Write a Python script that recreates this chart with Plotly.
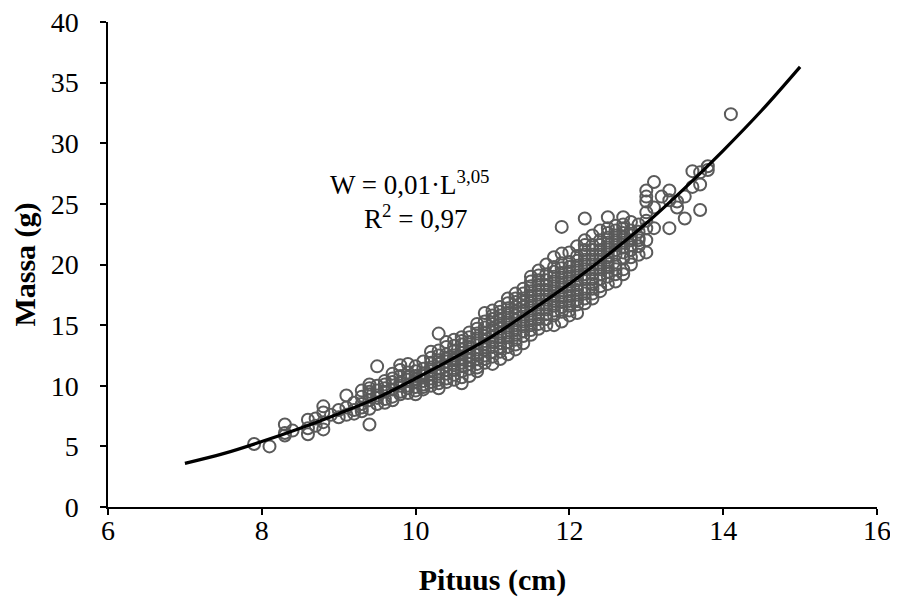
import plotly.graph_objects as go

# measured lengths (cm) and the masses (g) found at each length
lengths = [7.9, 8.1, 8.3, 8.4, 8.6, 8.7, 8.8, 8.9, 9.0, 9.1, 9.2, 9.3, 9.4, 9.5, 9.6,
           9.7, 9.8, 9.9, 10.0, 10.1, 10.2, 10.3, 10.4, 10.5, 10.6, 10.7, 10.8, 10.9,
           11.0, 11.1, 11.2, 11.3, 11.4, 11.5, 11.6, 11.7, 11.8, 11.9, 12.0, 12.1,
           12.2, 12.3, 12.4, 12.5, 12.6, 12.7, 12.8, 12.9, 13.0, 13.1, 13.2, 13.3,
           13.4, 13.5, 13.6, 13.7, 13.8, 14.1]

masses = [
    [5.2],
    [5.0],
    [6.8, 5.9, 6.1],
    [6.3],
    [6.0, 6.5, 7.2],
    [7.3, 6.7],
    [8.3, 7.8, 6.4, 7.0],
    [7.6],
    [7.4, 8.0],
    [7.6, 8.2, 9.2],
    [8.0, 8.6, 7.7],
    [8.5, 9.1, 7.9, 9.6, 8.2],
    [9.8, 8.8, 9.3, 6.8, 10.1, 8.1, 9.5],
    [11.6, 9.2, 9.6, 8.5, 9.0, 10.0],
    [9.5, 10.1, 8.9, 8.6, 10.4, 9.8],
    [9.7, 10.3, 10.6, 9.1, 8.8, 11.0],
    [11.7, 10.8, 9.5, 10.2, 9.3, 11.3, 10.0],
    [11.8, 10.0, 10.5, 9.4, 11.1, 9.8, 10.7],
    [11.2, 10.3, 9.6, 10.8, 9.9, 11.6, 9.3, 10.5],
    [11.0, 10.4, 9.7, 12.0, 11.4, 10.1, 10.8, 9.9],
    [12.8, 11.5, 10.6, 10.0, 11.9, 11.2, 10.3, 12.3, 10.9],
    [14.3, 12.5, 11.8, 10.5, 11.0, 9.8, 12.9, 11.4, 10.2, 12.1],
    [13.2, 12.6, 11.7, 10.6, 11.0, 12.0, 13.6, 11.3, 10.3, 12.3],
    [13.8, 12.9, 12.1, 11.3, 10.5, 11.7, 12.5, 13.3, 10.9, 12.2],
    [14.0, 13.4, 12.7, 11.9, 10.2, 11.2, 12.3, 13.0, 10.7, 11.6, 13.7],
    [14.4, 13.6, 12.8, 12.1, 11.4, 10.8, 13.2, 12.5, 11.8, 14.0],
    [15.1, 14.3, 13.5, 12.6, 11.8, 11.2, 13.0, 13.9, 12.2, 14.7, 11.5],
    [16.0, 14.8, 14.1, 13.4, 12.5, 11.9, 13.0, 15.3, 12.2, 13.7, 14.4],
    [16.2, 15.5, 14.7, 14.0, 13.2, 12.4, 11.8, 13.6, 15.1, 12.8, 14.4, 15.8],
    [16.5, 15.8, 15.0, 14.3, 13.5, 12.8, 12.2, 14.0, 15.4, 13.1, 14.7, 16.1],
    [17.2, 16.4, 15.6, 14.8, 14.0, 13.2, 12.6, 14.4, 15.2, 16.0, 13.6, 16.8],
    [17.6, 16.9, 16.1, 15.4, 14.6, 13.8, 13.0, 15.0, 15.8, 14.2, 16.5, 17.2, 13.4],
    [18.0, 17.2, 16.5, 15.7, 14.9, 14.1, 13.5, 15.3, 16.1, 14.5, 16.9, 17.6],
    [19.0, 18.2, 17.4, 16.6, 15.8, 15.0, 14.2, 16.2, 17.0, 15.4, 17.8, 14.6, 18.6],
    [19.5, 18.7, 17.9, 17.1, 16.3, 15.5, 14.7, 16.7, 17.5, 15.9, 18.3, 15.1, 19.1],
    [20.0, 19.2, 18.3, 17.5, 16.7, 15.9, 15.0, 17.1, 17.9, 16.3, 18.7, 15.5],
    [20.6, 19.8, 19.0, 18.2, 17.4, 16.6, 15.8, 15.0, 17.8, 18.6, 16.2, 19.4, 17.0],
    [23.1, 20.9, 20.1, 19.3, 18.5, 17.7, 16.9, 16.1, 15.3, 18.1, 18.9, 16.5, 19.7, 17.3],
    [21.0, 20.2, 19.4, 18.6, 17.8, 17.0, 16.2, 15.8, 18.2, 19.0, 16.6, 19.8, 17.4],
    [21.5, 20.7, 19.9, 19.1, 18.3, 17.5, 16.7, 16.0, 18.7, 19.5, 17.1, 20.3, 17.9],
    [23.8, 22.0, 21.2, 20.4, 19.6, 18.8, 18.0, 17.2, 16.8, 19.2, 20.0, 17.6, 20.8, 21.6],
    [22.4, 21.6, 20.8, 20.0, 19.2, 18.4, 17.6, 17.2, 19.6, 20.4, 18.0, 21.2, 18.8],
    [22.8, 22.0, 21.2, 20.4, 19.6, 18.8, 18.2, 17.8, 20.0, 20.8, 19.2, 21.6],
    [23.9, 23.0, 22.2, 21.4, 20.6, 19.8, 19.0, 18.4, 20.2, 21.0, 21.8, 22.6, 19.4],
    [23.2, 22.4, 21.6, 20.8, 20.0, 19.2, 18.6, 21.2, 22.0, 19.6, 22.8],
    [23.9, 23.3, 22.6, 21.8, 21.0, 20.5, 19.6, 21.4, 22.2, 23.0, 19.2],
    [23.5, 22.8, 22.0, 21.2, 20.6, 21.6, 22.4, 20.0],
    [23.3, 22.2, 21.5, 22.7, 20.8, 22.0],
    [26.1, 25.6, 25.2, 24.3, 23.0, 22.0, 21.0, 23.6],
    [26.8, 24.7, 23.0],
    [25.6],
    [26.1, 25.3, 23.0],
    [25.2, 24.7],
    [25.6, 23.8],
    [27.7, 26.4],
    [27.6, 26.6, 24.5],
    [28.1, 27.8],
    [32.4],
]

# fitted curve
fit_x = [7.0, 7.5, 8.0, 8.5, 9.0, 9.5, 10.0, 10.5, 11.0, 11.5, 12.0, 12.5, 13.0, 13.5, 14.0, 14.5, 15.0]
fit_y = [3.6, 4.4, 5.4, 6.5, 7.7, 9.0, 10.6, 12.3, 14.1, 16.2, 18.4, 20.8, 23.4, 26.3, 29.4, 32.7, 36.3]

x_ticks = [6, 8, 10, 12, 14, 16]
y_ticks = [0, 5, 10, 15, 20, 25, 30, 35, 40]

pts_x = [l for l, ms in zip(lengths, masses) for _ in ms]
pts_y = [m for ms in masses for m in ms]

FONT = "Liberation Serif, Times New Roman, serif"

fig = go.Figure()
fig.add_trace(go.Scatter(
    x=pts_x, y=pts_y, mode="markers",
    marker=dict(symbol="circle-open", size=12, color="#5a5a5a", line=dict(width=2, color="#5a5a5a")),
    showlegend=False,
))
fig.add_trace(go.Scatter(
    x=fit_x, y=fit_y, mode="lines", line=dict(color="black", width=3.2, shape="spline"),
    showlegend=False,
))

fig.add_annotation(
    x=9.93, y=26.7, xref="x", yref="y", showarrow=False,
    text="W = 0,01·L<sup>3,05</sup>", font=dict(family=FONT, size=27, color="black"),
)
fig.add_annotation(
    x=10.0, y=23.9, xref="x", yref="y", showarrow=False,
    text="R<sup>2</sup> = 0,97", font=dict(family=FONT, size=27, color="black"),
)

axis_common = dict(
    showline=True, linecolor="black", linewidth=1.5, ticks="outside", ticklen=6,
    tickcolor="black", tickwidth=1.5, showgrid=False, zeroline=False,
    ticklabeloverflow="allow", automargin=False,
    tickfont=dict(family=FONT, size=28, color="black"),
)
fig.update_xaxes(range=[6, 16], tickvals=x_ticks, ticklabelstandoff=-8,
                 title=dict(text="<b>Pituus (cm)</b>", font=dict(family=FONT, size=30, color="black"), standoff=24),
                 **axis_common)
fig.update_yaxes(range=[0, 40], tickvals=y_ticks, ticklabelstandoff=16,
                 title=dict(text="<b>Massa (g)</b>", font=dict(family=FONT, size=30, color="black"), standoff=10),
                 **axis_common)

# page body has an 8px margin, so the figure is sized and offset to compensate
fig.update_layout(
    width=890, height=596,
    margin=dict(l=100, r=21, t=14, b=97),
    plot_bgcolor="white", paper_bgcolor="white",
)

fig.write_html("out.html")
